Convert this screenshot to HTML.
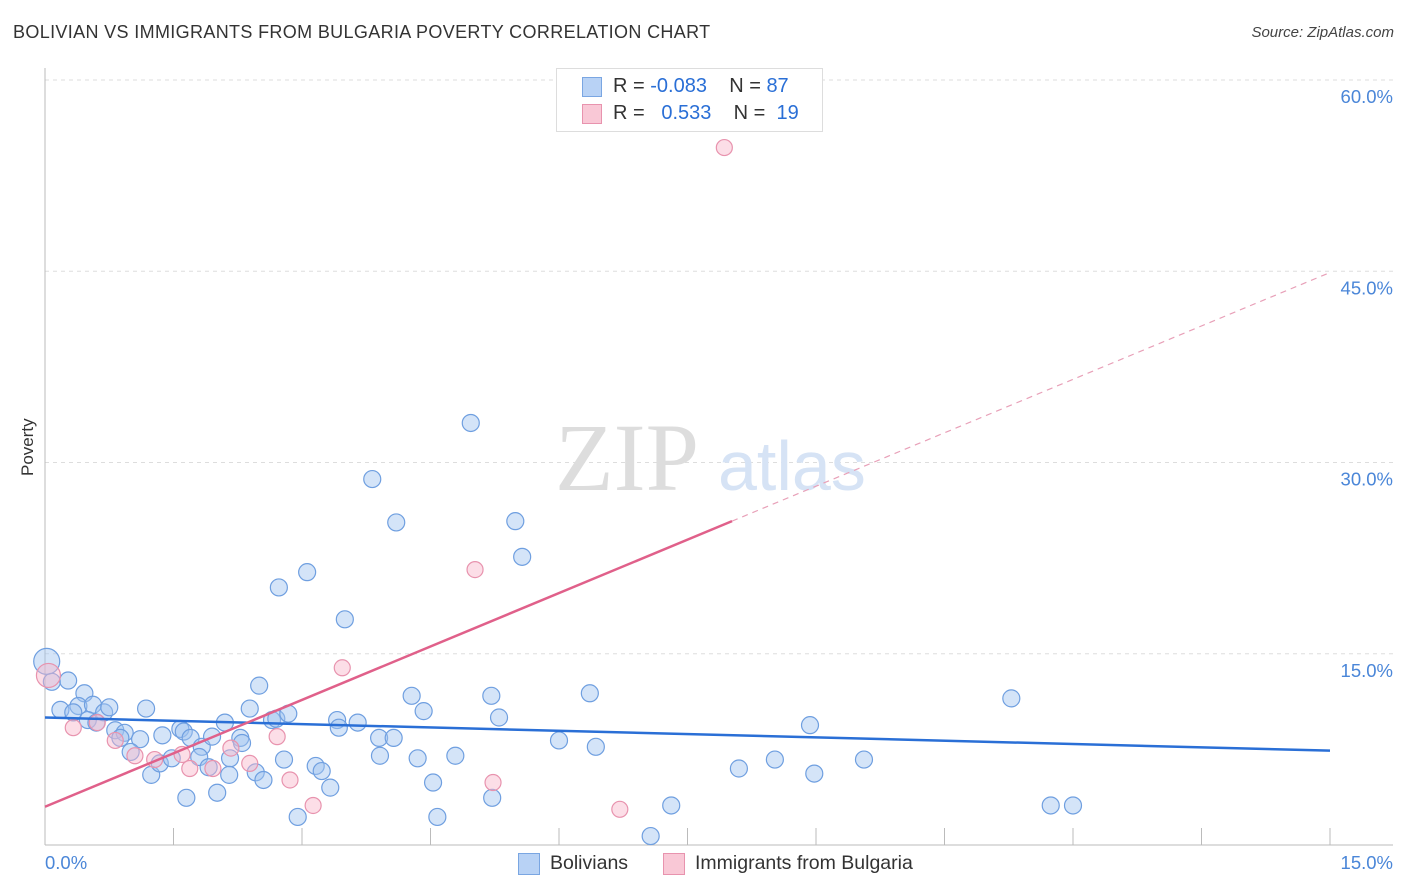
<!DOCTYPE html>
<html><head><meta charset="utf-8"><style>
body{margin:0;background:#fff;font-family:"Liberation Sans",sans-serif;}
#wrap{position:relative;width:1406px;height:892px;overflow:hidden}
.t{position:absolute;white-space:nowrap}
</style></head><body>
<div id="wrap">
<div class="t" style="left:13px;top:22px;font-size:18px;color:#333;letter-spacing:0.35px">BOLIVIAN VS IMMIGRANTS FROM BULGARIA POVERTY CORRELATION CHART</div>
<div class="t" style="right:12px;top:24px;font-size:15px;color:#444;font-style:italic">Source: ZipAtlas.com</div>
<svg id="svg" width="1406" height="892" style="position:absolute;left:0;top:0"></svg>
</div>
<script>
const bluX=[0.02,0.08,0.27,0.18,0.46,0.39,0.56,0.33,0.50,0.69,0.75,0.60,0.82,0.93,0.88,1.11,1.00,1.18,1.37,1.24,1.34,1.48,1.58,1.62,1.70,1.83,1.80,1.65,1.95,1.91,2.01,2.10,2.16,2.15,2.28,2.30,2.39,2.50,2.46,2.55,2.65,2.70,2.84,2.73,2.79,3.06,2.95,3.16,3.23,3.33,3.41,3.43,3.50,3.65,3.82,3.90,3.91,4.07,4.10,4.28,4.35,4.42,4.53,4.58,4.79,4.97,5.21,5.22,5.30,5.49,5.57,6.00,6.36,6.43,7.31,7.07,8.10,8.52,8.93,8.98,9.56,11.28,11.74,12.00];
const bluY=[14.4,12.8,12.9,10.6,11.9,10.9,11.0,10.4,9.8,10.4,10.8,9.6,9.0,8.8,8.4,8.3,7.3,10.7,8.6,5.5,6.4,6.8,9.1,8.9,8.4,7.7,6.9,3.7,8.5,6.1,4.1,9.6,6.8,5.5,8.4,8.0,10.7,12.5,5.7,5.1,9.8,9.9,10.3,20.2,6.7,21.4,2.2,6.2,5.8,4.5,9.8,9.2,17.7,9.6,28.7,8.4,7.0,8.4,25.3,11.7,6.8,10.5,4.9,2.2,7.0,33.1,11.7,3.7,10.0,25.4,22.6,8.2,11.9,7.7,3.1,0.7,6.0,6.7,9.4,5.6,6.7,11.5,3.1,3.1];
const pinkX=[0.04,0.33,0.61,0.82,1.05,1.28,1.60,1.69,1.96,2.17,2.39,2.71,2.86,3.13,3.47,5.02,5.23,6.71,7.93];
const pinkY=[13.3,9.2,9.6,8.2,7.0,6.7,7.1,6.0,6.0,7.6,6.4,8.5,5.1,3.1,13.9,21.6,4.9,2.8,54.7];
const yTicks=[15,30,45,60];
const xTickVals=[0,1.5,3,4.5,6,7.5,9,10.5,12,13.5,15];
const blueLine=[10.0,7.4];
const pinkLine=[3.0,44.9];
const pinkSolidEnd=8.02;
const X=v=>45+v/15*1285, Y=v=>845-v/60*765;
const s=document.getElementById('svg'),NS='http://www.w3.org/2000/svg';
function mk(t,a){const e=document.createElementNS(NS,t);for(const k in a)e.setAttribute(k,a[k]);s.appendChild(e);return e;}
yTicks.forEach(v=>{
 const g=mk('line',{x1:45,x2:1393,y1:Y(v),y2:Y(v),stroke:'#ddd','stroke-dasharray':'4,4'});
 
 
 const t=mk('text',{x:1393,y:Y(v)+23,'text-anchor':'end','font-size':18.5,fill:'#4a86d8','font-family':'Liberation Sans'});
 t.textContent=v.toFixed(1)+'%';
 
 
});
let a=mk('line',{x1:45,x2:45,y1:68,y2:845,stroke:'#bbb'});


a=mk('line',{x1:45,x2:1393,y1:845,y2:845,stroke:'#bbb'});


xTickVals.forEach(v=>{const l=mk('line',{x1:X(v),x2:X(v),y1:828,y2:845,stroke:'#bbb'});
 
 });
let w=mk('text',{x:555,y:490,'font-size':96,fill:'#ddd','font-family':'Liberation Serif'});w.textContent='ZIP';


w=mk('text',{x:718,y:490,'font-size':70,fill:'#d6e3f5','font-family':'Liberation Sans'});w.textContent='atlas';


bluX.forEach((x,i)=>{const c=mk('circle',{cx:X(x),cy:Y(bluY[i]),r:i==0?13:8.5,fill:'rgba(160,196,240,0.45)',stroke:'#6f9fe0','stroke-width':1.2});
 
 });
pinkX.forEach((x,i)=>{const c=mk('circle',{cx:X(x),cy:Y(pinkY[i]),r:i==0?12:8,fill:'rgba(248,182,202,0.45)',stroke:'#e893ae','stroke-width':1.2});
 
 });
const pAt=v=>pinkLine[0]+(pinkLine[1]-pinkLine[0])*v/15;
let l=mk('line',{x1:X(0),y1:Y(blueLine[0]),x2:X(15),y2:Y(blueLine[1]),stroke:'#2a6fd6','stroke-width':2.5});


l=mk('line',{x1:X(0),y1:Y(pAt(0)),x2:X(pinkSolidEnd),y2:Y(pAt(pinkSolidEnd)),stroke:'#e0608a','stroke-width':2.5});


l=mk('line',{x1:X(pinkSolidEnd),y1:Y(pAt(pinkSolidEnd)),x2:X(15),y2:Y(pAt(15)),stroke:'#e8a0b8','stroke-width':1.2,'stroke-dasharray':'6,5'});


</script>
<div class="t" style="left:45px;top:852px;font-size:18.5px;color:#4a86d8">0.0%</div>
<div class="t" style="right:13px;top:852px;font-size:18.5px;color:#4a86d8">15.0%</div>
<div class="t" style="left:6px;top:444px;font-size:17px;color:#333;transform:rotate(-90deg);transform-origin:center;width:44px;text-align:center">Poverty</div>
<div style="position:absolute;left:556px;top:68px;width:265px;height:62px;border:1px solid #ddd;background:#fff;font-size:20px;color:#333">
 <div style="position:absolute;left:25px;top:8px;width:18px;height:18px;background:#b8d2f5;border:1px solid #7aa6e2"></div>
 <div class="t" style="left:56px;top:6px">R = <span style="color:#2a6fd6">-0.083</span>&nbsp;&nbsp;&nbsp; N = <span style="color:#2a6fd6">87</span></div>
 <div style="position:absolute;left:25px;top:35px;width:18px;height:18px;background:#f9c8d6;border:1px solid #e893ae"></div>
 <div class="t" style="left:56px;top:33px">R = &nbsp;&nbsp;<span style="color:#2a6fd6">0.533</span>&nbsp;&nbsp;&nbsp; N = &nbsp;<span style="color:#2a6fd6">19</span></div>
</div>
<div style="position:absolute;left:518px;top:853px;font-size:19.5px;color:#333">
 <div style="position:absolute;left:0;top:0;width:20px;height:20px;background:#b8d2f5;border:1px solid #7aa6e2"></div>
 <div class="t" style="left:32px;top:-1px">Bolivians</div>
 <div style="position:absolute;left:145px;top:0;width:20px;height:20px;background:#f9c8d6;border:1px solid #e893ae"></div>
 <div class="t" style="left:177px;top:-1px">Immigrants from Bulgaria</div>
</div>
</body></html>
